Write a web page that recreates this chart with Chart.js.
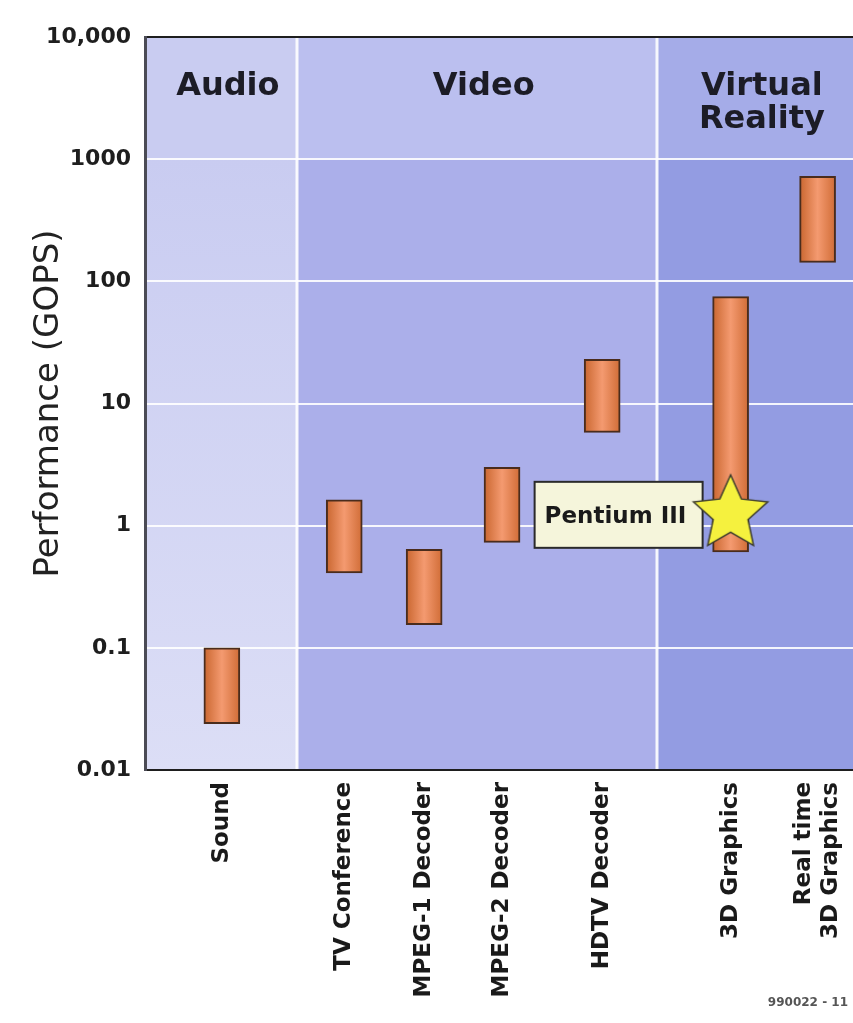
<!DOCTYPE html>
<html>
<head>
<meta charset="utf-8">
<title>Performance (GOPS)</title>
<script src="https://cdn.jsdelivr.net/npm/chart.js@4.4.1/dist/chart.umd.min.js"></script>
<style>
  html, body { margin: 0; padding: 0; background: #fff; }
  #wrap { width: 853px; height: 1023px; }
</style>
</head>
<body>
<div id="wrap"><canvas id="gopsChart" width="853" height="1023"></canvas></div>
<script>
// applications along the x axis (position = place on the axis, in category units)
const categories = ['Sound', 'TV Conference', 'MPEG-1 Decoder', 'MPEG-2 Decoder', 'HDTV Decoder', '3D Graphics', ['Real time', '3D Graphics']];
const categoryPos = [0.76, 1.97, 2.76, 3.53, 4.52, 5.79, 6.65];

// required performance range in GOPS
const lowValues = [0.024, 0.41, 0.155, 0.73, 5.8, 0.61, 143];
const highValues = [0.1, 1.63, 0.64, 3.0, 23, 75, 725];

// Pentium III marker
const pentiumPos = 5.79;
const pentiumValue = 1.25;

const yTicks = [0.01, 0.1, 1, 10, 100, 1000, 10000];
const yTickLabels = ['0.01', '0.1', '1', '10', '100', '1000', '10,000'];

// application groups
const groupNames = [['Audio'], ['Video'], ['Virtual', 'Reality']];
const groupStart = [0, 1.5, 5.06];
const groupEnd = [1.5, 5.06, 7];

const bodyColors = ['#c9ccf1', '#abafea', '#939ce2'];
const headColors = ['#c9ccf1', '#bbbfef', '#a5ace8'];

Chart.defaults.font.family = "'DejaVu Sans', sans-serif";

// five pointed star used as the point style
function makeStar(r) {
  const c = document.createElement('canvas');
  const s = Math.ceil(r * 2 + 6);
  c.width = s;
  c.height = s;
  const g = c.getContext('2d');
  g.translate(s / 2, s / 2);
  g.beginPath();
  for (let i = 0; i < 10; i++) {
    const rad = i % 2 === 0 ? r : r * 0.47;
    const a = -Math.PI / 2 + i * Math.PI / 5;
    g.lineTo(rad * Math.cos(a), rad * Math.sin(a));
  }
  g.closePath();
  g.fillStyle = '#f5f13e';
  g.fill();
  g.strokeStyle = '#3b3b2c';
  g.lineWidth = 1.5;
  g.stroke();
  return c;
}

function barFill(c) {
  const chart = c.chart;
  if (c.type !== 'data' || !chart.chartArea) return '#ec8656';
  const px = chart.scales.x.getPixelForValue(c.raw.x);
  const g = chart.ctx.createLinearGradient(px - 18, 0, px + 18, 0);
  g.addColorStop(0, '#c9662f');
  g.addColorStop(0.5, '#f49a70');
  g.addColorStop(1, '#d06c36');
  return g;
}

// coloured backgrounds and headings for the groups
const regionPlugin = {
  id: 'regions',
  beforeDraw(chart) {
    const { ctx, chartArea, scales: { x, y } } = chart;
    const top = chartArea.top, bottom = chartArea.bottom;
    const headBottom = y.getPixelForValue(1000) - 1;

    // centre two-line tick labels on their tick
    x.getLabelItems().forEach(item => {
      if (Array.isArray(item.label) && item.options && item.options.translation) {
        item.options.translation[0] -= (item.label.length - 1) * item.font.lineHeight / 2;
      }
    });

    ctx.save();
    groupStart.forEach((s, i) => {
      const x0 = x.getPixelForValue(s);
      const x1 = x.getPixelForValue(groupEnd[i]);
      let fill = bodyColors[i];
      if (i === 0) {
        fill = ctx.createLinearGradient(0, headBottom, 0, bottom);
        fill.addColorStop(0, '#c9ccf1');
        fill.addColorStop(1, '#dcdef6');
      }
      ctx.fillStyle = fill;
      ctx.fillRect(x0, top, x1 - x0, bottom - top);
      ctx.fillStyle = headColors[i];
      ctx.fillRect(x0, top, x1 - x0, headBottom - top);

      ctx.fillStyle = '#1c1c26';
      ctx.font = "bold 32px 'DejaVu Sans'";
      ctx.textAlign = 'center';
      ctx.textBaseline = 'alphabetic';
      groupNames[i].forEach((line, j) => {
        ctx.fillText(line, (x0 + x1) / 2 + 7, top + 58 + j * 33);
      });
    });
    // white separators between groups
    ctx.strokeStyle = 'rgba(255,255,255,0.9)';
    ctx.lineWidth = 3;
    groupStart.slice(1).forEach(s => {
      const px = Math.round(x.getPixelForValue(s));
      ctx.beginPath();
      ctx.moveTo(px, top);
      ctx.lineTo(px, bottom);
      ctx.stroke();
    });
    ctx.restore();
  },
  afterDraw(chart) {
    const ctx = chart.ctx;
    ctx.save();
    ctx.font = "bold 12px 'DejaVu Sans'";
    ctx.fillStyle = '#555';
    ctx.textAlign = 'right';
    ctx.fillText('990022 - 11', chart.width - 5, 1006);
    ctx.restore();
  }
};

// label box next to the star
const pentiumPlugin = {
  id: 'pentiumLabel',
  beforeDatasetDraw(chart, args) {
    if (args.index !== 1) return;
    const pt = chart.getDatasetMeta(1).data[0];
    const ctx = chart.ctx;
    const left = pt.x - 196, right = pt.x - 28;
    const top = pt.y - 32, h = 66;
    ctx.save();
    ctx.fillStyle = '#f5f5db';
    ctx.fillRect(left, top, right - left, h);
    ctx.strokeStyle = '#2a2a2a';
    ctx.lineWidth = 2;
    ctx.strokeRect(left, top, right - left, h);
    ctx.fillStyle = '#1a1a1a';
    ctx.font = "bold 23px 'DejaVu Sans'";
    ctx.textAlign = 'left';
    ctx.textBaseline = 'middle';
    ctx.fillText('Pentium III', left + 10, pt.y + 3);
    ctx.restore();
  }
};

new Chart(document.getElementById('gopsChart'), {
  type: 'bar',
  data: {
    datasets: [{
      type: 'bar',
      label: 'Performance range',
      data: categoryPos.map((x, i) => ({ x: x, y: [lowValues[i], highValues[i]] })),
      backgroundColor: barFill,
      borderColor: '#4a2c1c',
      borderWidth: 2,
      borderSkipped: false,
      barThickness: 36,
      order: 1
    }, {
      type: 'scatter',
      label: 'Pentium III',
      data: [{ x: pentiumPos, y: pentiumValue }],
      pointStyle: makeStar(39),
      pointRadius: 40,
      order: 0
    }]
  },
  options: {
    responsive: false,
    animation: false,
    layout: { autoPadding: false, padding: { top: 37, left: 0, right: 0, bottom: 0 } },
    plugins: {
      legend: { display: false },
      tooltip: { enabled: false }
    },
    scales: {
      x: {
        type: 'linear',
        min: 0,
        max: 7,
        offset: false,
        afterBuildTicks: axis => { axis.ticks = categoryPos.map(v => ({ value: v })); },
        afterFit: axis => { axis.height = 253; axis.paddingLeft = 0; axis.paddingRight = 0; },
        ticks: {
          callback: (v, i) => categories[i],
          minRotation: 90,
          maxRotation: 90,
          autoSkip: false,
          padding: 12,
          color: '#1a1a1a',
          font: { size: 23, weight: 'bold' }
        },
        grid: { display: false, drawTicks: false, offset: false },
        border: { display: true, color: '#1e1e1e', width: 2 }
      },
      y: {
        type: 'logarithmic',
        min: 0.01,
        max: 10000,
        afterBuildTicks: axis => { axis.ticks = yTicks.map(v => ({ value: v })); },
        afterFit: axis => { axis.width = 145; },
        ticks: {
          callback: v => { const i = yTicks.indexOf(v); return i < 0 ? '' : yTickLabels[i]; },
          autoSkip: false,
          padding: 14,
          color: '#1e1e1e',
          font: { size: 22, weight: 'bold' }
        },
        grid: {
          drawTicks: false,
          color: c => (c.tick && (c.tick.value === 10000 || c.tick.value === 0.01)) ? '#1e1e1e' : 'rgba(255,255,255,0.9)',
          lineWidth: 2
        },
        border: { display: true, color: '#4b4b55', width: 3 },
        title: {
          display: true,
          text: 'Performance (GOPS)',
          color: '#222',
          font: { size: 34, weight: 'normal' },
          padding: { top: 29, bottom: 0 }
        }
      }
    }
  },
  plugins: [regionPlugin, pentiumPlugin]
});
</script>
</body>
</html>
